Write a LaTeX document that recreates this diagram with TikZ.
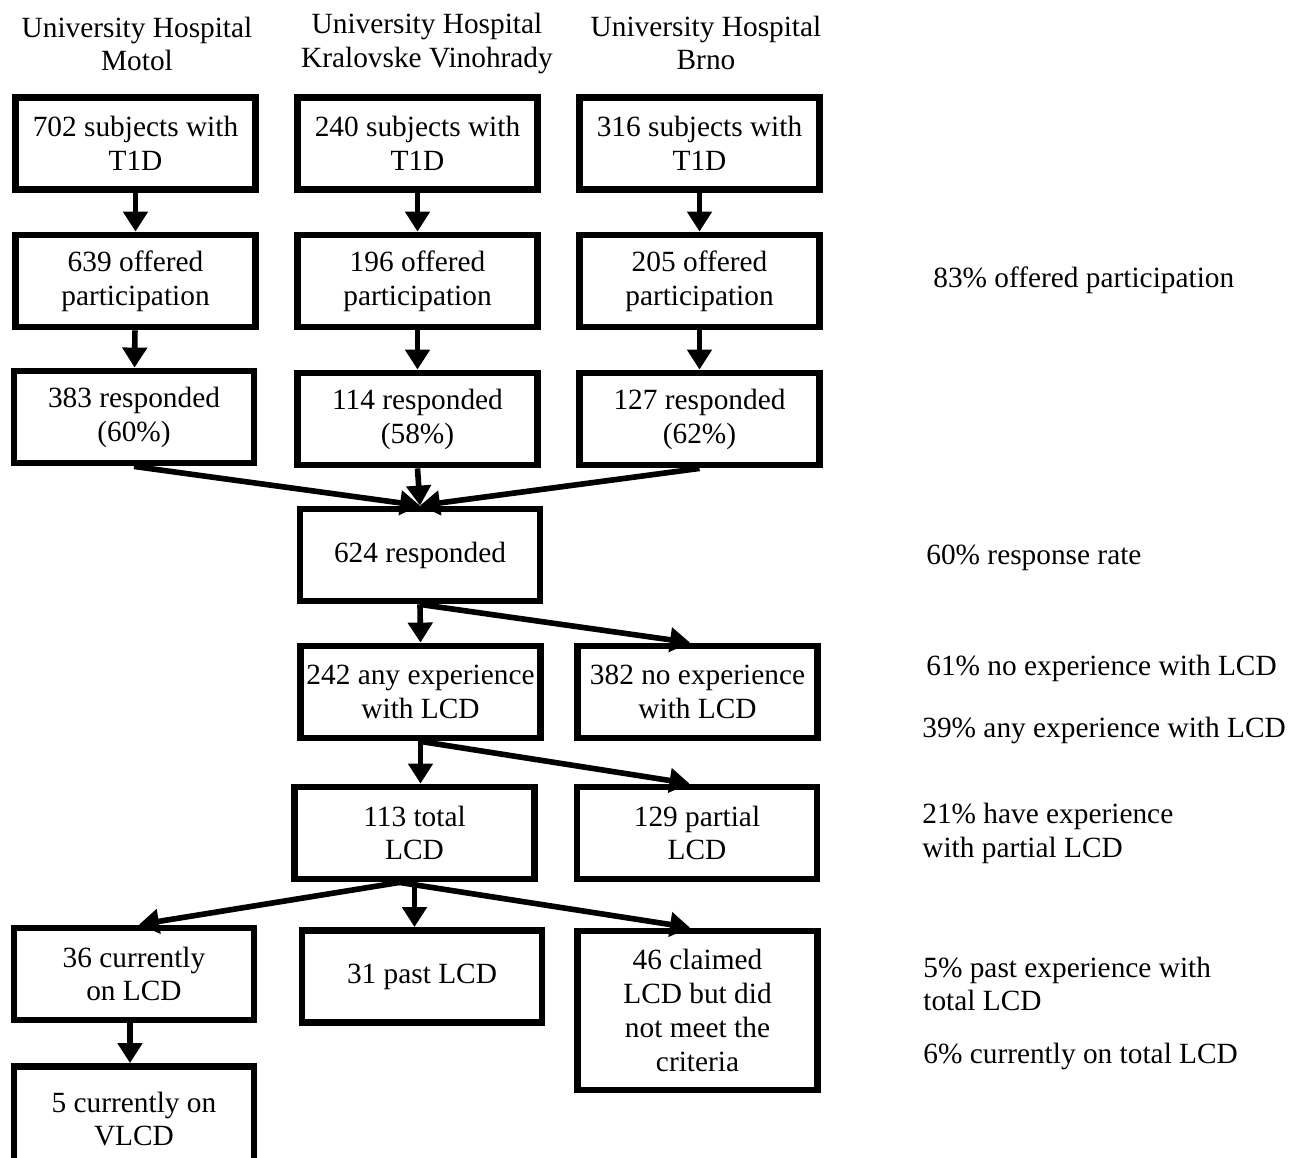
\documentclass[tikz,border=0pt]{standalone}
\usepackage{fontspec}
\setmainfont{Liberation Serif}
\usetikzlibrary{positioning,arrows.meta}

\tikzset{
  flowbox/.style={draw, line width=3.9pt, minimum width=4.8cm, minimum height=1.84cm, align=center, inner sep=2pt},
  flowarrow/.style={line width=3.2pt, -{Triangle[length=0.4cm,width=0.48cm]}},
  sidenote/.style={anchor=west, align=left, inner sep=0pt},
}

\begin{document}
\begin{tikzpicture}[x=0.02cm, y=-0.02cm, font=\fontsize{16.7}{19.3}\selectfont]
  \useasboundingbox (0,0) rectangle (1295,1158);
  \clip (0,0) rectangle (1295,1158);

  % hospitals
  \node[align=center] (hmotol) at (137,44) {University Hospital\\Motol};
  \node[align=center] (hvino) at (427,43.5) {University Hospital\\Kralovske Vinohrady};
  \node[align=center] (hbrno) at (706,43) {University Hospital\\Brno};

  % per hospital
  \node[flowbox] (motol1) at (135.5,143.5) {702 subjects with\\T1D};
  \node[flowbox] (vino1) at (417.5,143.5) {240 subjects with\\T1D};
  \node[flowbox] (brno1) at (699.5,143.5) {316 subjects with\\T1D};
  \node[flowbox] (motol2) at (135.5,281) {639 offered\\participation};
  \node[flowbox] (vino2) at (417.5,281) {196 offered\\participation};
  \node[flowbox] (brno2) at (699.5,281) {205 offered\\participation};
  \node[flowbox] (motol3) at (134,417) {383 responded\\(60\%)};
  \node[flowbox] (vino3) at (417.5,419) {114 responded\\(58\%)};
  \node[flowbox] (brno3) at (699.5,419) {127 responded\\(62\%)};

  % pooled
  \node[flowbox] (resp) at (420,555) {624 responded};
  \node[flowbox] (anyexp) at (420.5,692) {242 any experience\\with LCD};
  \node[flowbox] (noexp) at (697.5,692) {382 no experience\\with LCD};
  \node[flowbox] (total) at (414.5,833) {113 total\\LCD};
  \node[flowbox] (partial) at (697,833) {129 partial\\LCD};
  \node[flowbox] (current) at (134,974) {36 currently\\on LCD};
  \node[flowbox] (past) at (422,976.5) {31 past LCD};
  \node[flowbox, minimum height=3.18cm] (claimed) at (697.5,1010.5) {46 claimed\\LCD but did\\not meet the\\criteria};
  \node[flowbox, minimum height=2.1cm] (vlcd) at (134,1119) {5 currently on\\VLCD};

  % arrows
  \draw[flowarrow] (motol1) -- (motol2);
  \draw[flowarrow] (vino1) -- (vino2);
  \draw[flowarrow] (brno1) -- (brno2);
  \draw[flowarrow] (motol2) -- (motol3);
  \draw[flowarrow] (vino2) -- (vino3);
  \draw[flowarrow] (brno2) -- (brno3);
  \draw[flowarrow] (motol3.south) -- (resp.north);
  \draw[flowarrow] (vino3.south) -- (resp.north);
  \draw[flowarrow] (brno3.south) -- (resp.north);
  \draw[flowarrow] (resp.south) -- (anyexp.north);
  \draw[flowarrow] (resp.south) -- ([xshift=-0.15cm]noexp.north);
  \draw[flowarrow] (anyexp.south) -- (anyexp.south |- total.north);
  \draw[flowarrow] (anyexp.south) -- ([xshift=-0.15cm]partial.north);
  \draw[flowarrow] ([xshift=-0.3cm]total.south) -- ([xshift=0.1cm]current.north);
  \draw[flowarrow] (total.south) -- (total.south |- past.north);
  \draw[flowarrow] ([xshift=-0.3cm]total.south) -- ([xshift=-0.15cm]claimed.north);
  \draw[flowarrow] ([xshift=-0.08cm]current.south) -- ([xshift=-0.08cm]vlcd.north);

  % percentages
  \node[sidenote] (offered) at (933,280) {83\% offered participation};
  \node[sidenote] (rate) at (926,558) {60\% response rate};
  \node[sidenote] (noexppct) at (926,668) {61\% no experience with LCD};
  \node[sidenote] (anyexppct) at (922,730) {39\% any experience with LCD};
  \node[sidenote] (partialpct) at (922,833) {21\% have experience\\with partial LCD};
  \node[sidenote] (pastpct) at (923,984) {5\% past experience with\\total LCD};
  \node[sidenote] (currentpct) at (923,1056) {6\% currently on total LCD};
\end{tikzpicture}
\end{document}
